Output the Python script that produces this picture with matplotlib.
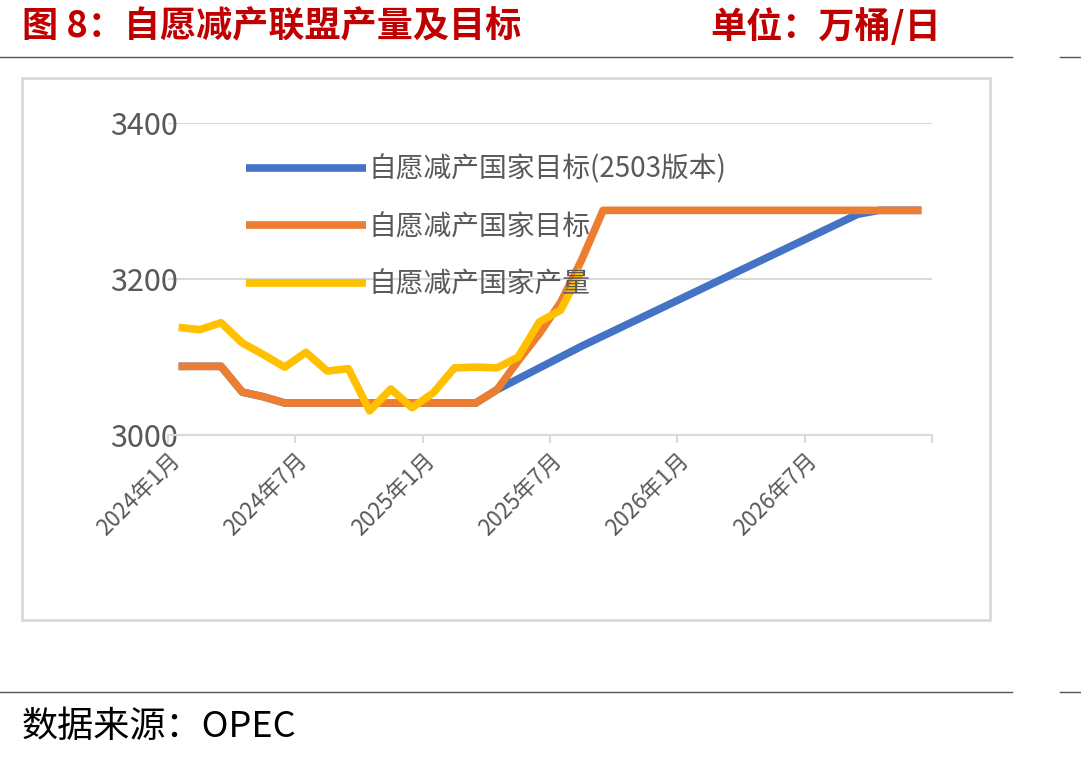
import matplotlib
matplotlib.use("Agg")
import matplotlib.pyplot as plt
from matplotlib.patches import Rectangle
from matplotlib.lines import Line2D

plt.rcParams['font.family'] = ['Noto Sans CJK SC', 'DejaVu Sans']

tick_labels = ["2024年1月", "2024年7月", "2025年1月", "2025年7月", "2026年1月", "2026年7月"]
target = [3088, 3088, 3088, 3055, 3049, 3041, 3041, 3041, 3041, 3041, 3041, 3041,
          3041, 3041, 3041, 3058, 3095, 3130, 3170, 3225, 3288, 3288, 3288, 3288,
          3288, 3288, 3288, 3288, 3288, 3288, 3288, 3288, 3288, 3288, 3288, 3288]
target_2503 = target[:15] + [3058, 3072, 3086, 3100, 3114, 3127, 3140, 3153, 3166, 3179,
                             3192, 3205, 3218, 3231, 3244, 3257, 3270, 3283, 3288, 3288, 3288]
production = [3138, 3135, 3144, 3118, 3103, 3087, 3106, 3082, 3085, 3031, 3059, 3035,
              3054, 3086, 3087, 3086, 3100, 3145, 3160, 3212]

W, H = 1081, 760
fig = plt.figure(figsize=(W/100, H/100), dpi=100)

def fx(x): return x / W
def fy(y): return 1 - y / H

fig.text(fx(22), fy(27), "图 8：自愿减产联盟产量及目标", color="#C00000", fontsize=26, fontweight="bold", va="center")
fig.text(fx(710), fy(27), "单位：万桶/日", color="#C00000", fontsize=26, fontweight="bold", va="center")
for y in (57, 692):
    fig.add_artist(Line2D([fx(0), fx(1012)], [fy(y), fy(y)], color="#555555", lw=1))
    fig.add_artist(Line2D([fx(1060), fx(1081)], [fy(y), fy(y)], color="#555555", lw=1))
fig.add_artist(Rectangle((fx(22), fy(620)), fx(990-22), fy(78)-fy(620), fill=False, ec="#D9D9D9", lw=2))
fig.text(fx(22), fy(727), "数据来源：OPEC", fontsize=26, va="center")

ax = fig.add_axes([fx(168), fy(435), fx(932-168), fy(123)-fy(435)])
x = list(range(36))
ax.plot(x, target_2503, color="#4472C4", lw=5.5, label="自愿减产国家目标(2503版本)", solid_capstyle="butt")
ax.plot(x, target, color="#ED7D31", lw=5.5, label="自愿减产国家目标", solid_capstyle="butt")
ax.plot(range(len(production)), production, color="#FFC000", lw=5.5, label="自愿减产国家产量", solid_capstyle="butt")
ax.set_xlim(-0.5, 35.5)
ax.set_ylim(3000, 3400)
ax.set_yticks([3000, 3200, 3400])
ax.tick_params(axis='y', length=0, labelsize=22, colors="#595959", pad=42)
for lab in ax.get_yticklabels():
    lab.set_ha("left")
ax.set_xticks([i - 0.5 for i in range(0, 36, 6)] + [35.5])
ax.set_xticklabels(tick_labels + [""], rotation=45, ha="right", rotation_mode="anchor", fontsize=16, color="#595959")
ax.tick_params(axis='x', length=6, color="#D9D9D9", width=1.5)
ax.grid(axis='y', color="#D9D9D9", lw=1.5)
for s in ["top", "right", "left"]:
    ax.spines[s].set_visible(False)
ax.spines["bottom"].set_color("#D9D9D9")
ax.spines["bottom"].set_linewidth(1.5)
ax.set_facecolor("none")
ax.legend(loc="upper left", bbox_to_anchor=(0.07, 0.98), frameon=False, fontsize=20,
          handlelength=4.3, labelspacing=1.0, handletextpad=0.1, labelcolor="#595959")
fig.savefig("out.png", dpi=100)
